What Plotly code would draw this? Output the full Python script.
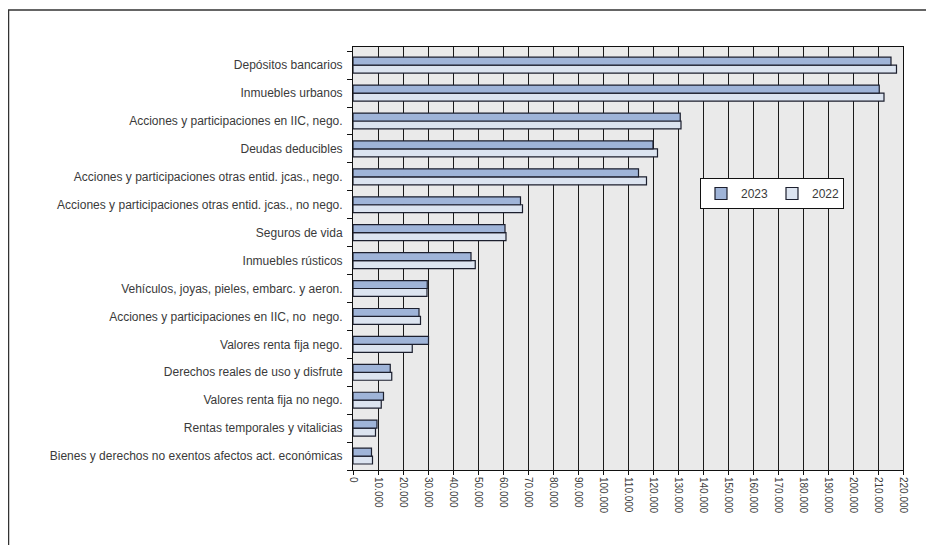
import plotly.graph_objects as go

categories = [
    "Depósitos bancarios",
    "Inmuebles urbanos",
    "Acciones y participaciones en IIC, nego.",
    "Deudas deducibles",
    "Acciones y participaciones otras entid. jcas., nego.",
    "Acciones y participaciones otras entid. jcas., no nego.",
    "Seguros de vida",
    "Inmuebles rústicos",
    "Vehículos, joyas, pieles, embarc. y aeron.",
    "Acciones y participaciones en IIC, no  nego.",
    "Valores renta fija nego.",
    "Derechos reales de uso y disfrute",
    "Valores renta fija no nego.",
    "Rentas temporales y vitalicias",
    "Bienes y derechos no exentos afectos act. económicas",
]
values_2023 = [215200, 210500, 130900, 120000, 114200, 67000, 60800, 47200,
               29700, 26400, 30200, 14900, 12200, 9600, 7400]
values_2022 = [217400, 212400, 131200, 121800, 117400, 67800, 61200, 48900,
               29600, 27000, 23700, 15500, 11300, 9000, 7800]
x_ticks = list(range(0, 220001, 10000))

# bottom-to-top order for plotting
cats_plot = categories[::-1]
v23 = values_2023[::-1]
v22 = values_2022[::-1]

W, H = 926, 537
ML, MR, MT, MB = 345, 31, 39, 75
PW, PH = W - ML - MR, H - MT - MB

fig = go.Figure()
fig.add_trace(go.Bar(
    y=cats_plot, x=v22, orientation="h", name="2022", legendrank=2,
    marker=dict(color="#DCE4F0", line=dict(color="#1c1f2e", width=1.2)),
))
fig.add_trace(go.Bar(
    y=cats_plot, x=v23, orientation="h", name="2023", legendrank=1,
    marker=dict(color="#9FB4D8", line=dict(color="#1c1f2e", width=1.2)),
))

fig.update_layout(
    width=W, height=H, autosize=False,
    margin=dict(l=ML, r=MR, t=MT, b=MB),
    paper_bgcolor="white",
    plot_bgcolor="#EAEAEA",
    barmode="group",
    bargap=0.43,
    bargroupgap=0,
    separators=",.",
    font=dict(family="Liberation Sans, Arial, sans-serif", size=12, color="#3a3a3a"),
    showlegend=True,
    legend=dict(
        orientation="h",
        x=(692 - ML) / PW, y=(MT + PH - 170) / PH, xanchor="left", yanchor="top",
        bgcolor="white", bordercolor="#111111", borderwidth=1,
        font=dict(size=12, color="#3a3a3a"),
        itemwidth=30,
        entrywidth=26, entrywidthmode="pixels",
        tracegroupgap=0,
    ),
    xaxis=dict(
        range=[0, 220000],
        tickvals=x_ticks,
        tickformat=",.0f",
        tickangle=90,
        ticks="outside", ticklen=4, tickcolor="#111111",
        showgrid=True, gridcolor="#1a1a1a", gridwidth=1,
        showline=True, linecolor="#111111", linewidth=1, mirror=True,
        zeroline=False,
        tickfont=dict(size=10, color="#3a3a3a"),
    ),
    yaxis=dict(
        type="category",
        categoryorder="array", categoryarray=cats_plot,
        range=[-0.5, 14.65],
        tickson="boundaries",
        ticks="outside", ticklen=5, tickcolor="#111111",
        showgrid=False,
        showline=True, linecolor="#111111", linewidth=1, mirror=True,
        tickfont=dict(size=12, color="#3a3a3a"),
        ticklabelstandoff=7,
    ),
    shapes=[dict(
        type="rect", xref="paper", yref="paper",
        x0=(0.5 - ML) / PW, x1=(W + 20 - ML) / PW,
        y0=-(H + 20 - MT - PH) / PH, y1=(MT + PH - 2) / PH,
        line=dict(color="#333333", width=1.5), fillcolor="rgba(0,0,0,0)",
        layer="above",
    )],
)

fig.write_html("out.html")
